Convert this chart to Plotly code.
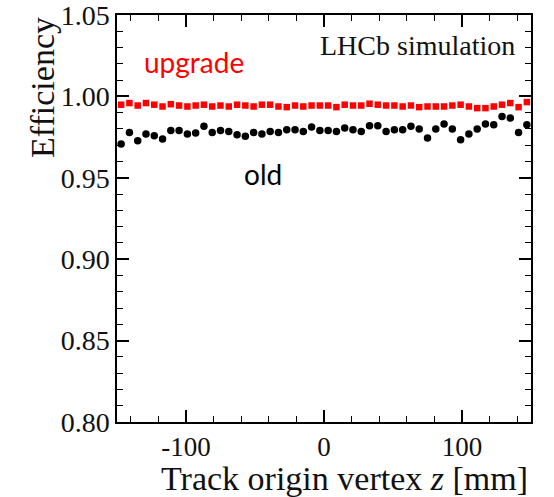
import plotly.graph_objects as go

z_centers = [-147 + 6 * i for i in range(50)]

eff_upgrade = [0.9949, 0.9959, 0.9944, 0.9959, 0.9949, 0.9938, 0.9952, 0.9944, 0.9938, 0.9944,
               0.9949, 0.9938, 0.9944, 0.9938, 0.9949, 0.9944, 0.9938, 0.9949, 0.9949, 0.9938,
               0.9934, 0.9944, 0.9938, 0.9944, 0.9944, 0.9944, 0.9934, 0.9949, 0.9944, 0.9944,
               0.9955, 0.9949, 0.9944, 0.9944, 0.9938, 0.9944, 0.9934, 0.9938, 0.9938, 0.9938,
               0.9944, 0.9949, 0.9938, 0.9928, 0.9928, 0.9938, 0.9949, 0.9959, 0.9934, 0.9965]

eff_old = [0.9708, 0.9779, 0.9728, 0.9769, 0.9759, 0.9738, 0.9791, 0.9791, 0.9769, 0.9775,
           0.9816, 0.9779, 0.9791, 0.9785, 0.9765, 0.9755, 0.9779, 0.9769, 0.9785, 0.9779,
           0.9795, 0.9795, 0.9785, 0.9812, 0.9791, 0.9791, 0.9785, 0.9806, 0.9795, 0.9785,
           0.9820, 0.9820, 0.9785, 0.9795, 0.9795, 0.9816, 0.9800, 0.9744, 0.9800, 0.9830,
           0.9800, 0.9734, 0.9769, 0.9800, 0.9830, 0.9826, 0.9877, 0.9867, 0.9779, 0.9826]

x_ticks = [-100, 0, 100]
y_ticks = [0.80, 0.85, 0.90, 0.95, 1.00, 1.05]

serif = "Liberation Serif"

fig = go.Figure()
fig.add_trace(go.Scatter(x=z_centers, y=eff_upgrade, mode="markers",
                         marker=dict(symbol="square", size=6.5, color="#ff0000"),
                         name="upgrade", showlegend=False))
fig.add_trace(go.Scatter(x=z_centers, y=eff_old, mode="markers",
                         marker=dict(symbol="circle", size=7.5, color="black"),
                         name="old", showlegend=False))

axis_common = dict(showgrid=False, zeroline=False, showline=True, linecolor="black",
                   linewidth=1.5, mirror="ticks", ticks="inside", tickcolor="black",
                   tickwidth=1.5, ticklen=12, automargin=False, ticklabeloverflow="allow")

fig.update_xaxes(range=[-150, 150], tickvals=x_ticks, ticktext=[f"{v:d}" for v in x_ticks],
                 tickfont=dict(family=serif, size=27, color="#111"),
                 minor=dict(dtick=20, tick0=0, ticks="inside", ticklen=6, tickwidth=1.2,
                            tickcolor="black"),
                 **axis_common)
fig.update_yaxes(range=[0.80, 1.05], tickvals=y_ticks, ticktext=[f"{v:.2f}" for v in y_ticks],
                 tickfont=dict(family=serif, size=28, color="#111"),
                 minor=dict(dtick=0.01, tick0=0.8, ticks="inside", ticklen=6, tickwidth=1.2,
                            tickcolor="black"),
                 **axis_common)

fig.add_annotation(x=0.998, y=-0.088, xref="paper", yref="paper", xanchor="right", yanchor="top",
                   text="Track origin vertex <i>z</i> [mm]", showarrow=False,
                   font=dict(family=serif, size=34, color="#111"))
fig.add_annotation(x=-0.18, y=1.0, xref="paper", yref="paper", xanchor="center", yanchor="top",
                   text="Efficiency", textangle=-90, showarrow=False,
                   font=dict(family=serif, size=34, color="#111"))
fig.add_annotation(x=0.966, y=0.924, xref="paper", yref="paper", xanchor="right", yanchor="middle",
                   text="LHCb simulation", showarrow=False,
                   font=dict(family=serif, size=28, color="#111"))
fig.add_annotation(x=0.060, y=0.885, xref="paper", yref="paper", xanchor="left", yanchor="middle",
                   text="upgrade", showarrow=False,
                   font=dict(family="Lato", size=28, color="#ff0000"))
fig.add_annotation(x=0.353, y=0.609, xref="paper", yref="paper", xanchor="center", yanchor="middle",
                   text="old", showarrow=False,
                   font=dict(family="Lato", size=28, color="black"))

fig.update_layout(width=554, height=497, margin=dict(l=117, r=23, t=15, b=75),
                  paper_bgcolor="white", plot_bgcolor="white")

fig.write_html("out.html")
